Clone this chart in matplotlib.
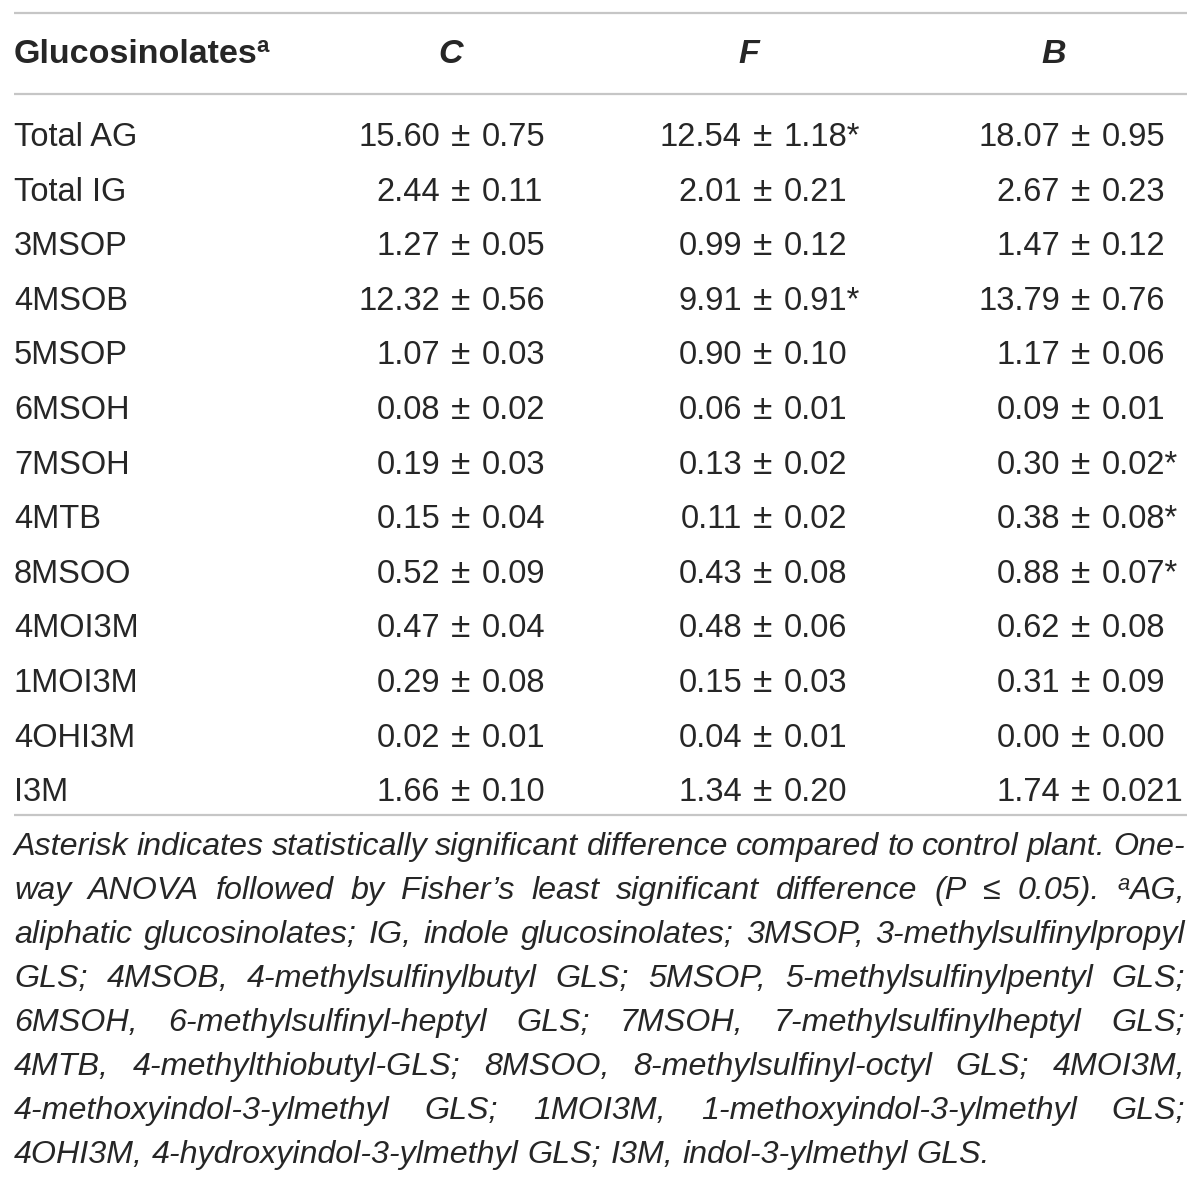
import matplotlib
matplotlib.use('Agg')
import matplotlib.pyplot as plt

# table content
compounds = ["Total AG", "Total IG", "3MSOP", "4MSOB", "5MSOP", "6MSOH", "7MSOH",
             "4MTB", "8MSOO", "4MOI3M", "1MOI3M", "4OHI3M", "I3M"]
col_heads = ["C", "F", "B"]
c_vals = ["15.60 ± 0.75", "2.44 ± 0.11", "1.27 ± 0.05", "12.32 ± 0.56", "1.07 ± 0.03",
          "0.08 ± 0.02", "0.19 ± 0.03", "0.15 ± 0.04", "0.52 ± 0.09", "0.47 ± 0.04",
          "0.29 ± 0.08", "0.02 ± 0.01", "1.66 ± 0.10"]
f_vals = ["12.54 ± 1.18*", "2.01 ± 0.21", "0.99 ± 0.12", "9.91 ± 0.91*", "0.90 ± 0.10",
          "0.06 ± 0.01", "0.13 ± 0.02", "0.11 ± 0.02", "0.43 ± 0.08", "0.48 ± 0.06",
          "0.15 ± 0.03", "0.04 ± 0.01", "1.34 ± 0.20"]
b_vals = ["18.07 ± 0.95", "2.67 ± 0.23", "1.47 ± 0.12", "13.79 ± 0.76", "1.17 ± 0.06",
          "0.09 ± 0.01", "0.30 ± 0.02*", "0.38 ± 0.08*", "0.88 ± 0.07*", "0.62 ± 0.08",
          "0.31 ± 0.09", "0.00 ± 0.00", "1.74 ± 0.021"]

caption_lines = [
    "Asterisk indicates statistically significant difference compared to control plant. One-",
    "way ANOVA followed by Fisher’s least significant difference (P ≤ 0.05). ^aAG,",
    "aliphatic glucosinolates; IG, indole glucosinolates; 3MSOP, 3-methylsulfinylpropyl",
    "GLS; 4MSOB, 4-methylsulfinylbutyl GLS; 5MSOP, 5-methylsulfinylpentyl GLS;",
    "6MSOH, 6-methylsulfinyl-heptyl GLS; 7MSOH, 7-methylsulfinylheptyl GLS;",
    "4MTB, 4-methylthiobutyl-GLS; 8MSOO, 8-methylsulfinyl-octyl GLS; 4MOI3M,",
    "4-methoxyindol-3-ylmethyl GLS; 1MOI3M, 1-methoxyindol-3-ylmethyl GLS;",
    "4OHI3M, 4-hydroxyindol-3-ylmethyl GLS; I3M, indol-3-ylmethyl GLS.",
]

c_text = '#262626'
c_rule = '#c6c6c6'
fam = ['Liberation Sans', 'DejaVu Sans']

fig = plt.figure(figsize=(12, 11.83), dpi=100)
ax = fig.add_axes([0, 0, 1, 1])
ax.set_xlim(0, 1200)
ax.set_ylim(1183, 0)
ax.axis('off')
renderer = fig.canvas.get_renderer()


def width(t):
    return t.get_window_extent(renderer).width


# rules
x_left, x_right = 14, 1187
for y in (12.5, 93.5, 815):
    ax.plot([x_left, x_right], [y, y], color=c_rule, lw=1.6, solid_capstyle='butt')

# header
fs_head = 24.5
fs = 23.5
head_base = 63
t = ax.text(x_left, head_base, "Glucosinolates", fontsize=fs_head, fontweight='bold',
            family=fam, color=c_text, va='baseline', ha='left')
ax.text(x_left + width(t) - 1, head_base - 11, "a", fontsize=16, fontweight='bold',
        family=fam, color=c_text, va='baseline', ha='left')
head_x = [451, 749, 1054]
for hx, h in zip(head_x, col_heads):
    ax.text(hx, head_base, h, fontsize=fs_head, fontweight='bold', style='italic',
            family=fam, color=c_text, va='baseline', ha='center')

# body, values aligned on the ± sign
pm_x = [461, 763, 1081]
row0, step = 146, 54.6
for i, name in enumerate(compounds):
    yb = row0 + i * step
    ax.text(x_left, yb, name, fontsize=fs, family=fam, color=c_text,
            va='baseline', ha='left')
    for px, vals in zip(pm_x, (c_vals, f_vals, b_vals)):
        mean, sd = vals[i].split(" ± ")
        ax.text(px - 21, yb, mean, fontsize=fs, family=fam, color=c_text,
                va='baseline', ha='right')
        ax.text(px, yb, "±", fontsize=fs + 2, family=fam, color=c_text,
                va='baseline', ha='center')
        ax.text(px + 21, yb, sd, fontsize=fs, family=fam, color=c_text,
                va='baseline', ha='left')

# caption: size chosen so the last (unjustified) line ends near x=990
probe = ax.text(0, 0, caption_lines[-1], fontsize=20, style='italic', family=fam)
cap_fs = 20 * (990 - x_left) / width(probe)
probe.remove()

cap_base, cap_step = 855, 44
for i, line in enumerate(caption_lines):
    yb = cap_base + i * cap_step
    pieces = []
    for word in line.split(' '):
        parts = []
        if word.startswith('^a'):
            parts.append(ax.text(0, yb - 9, 'a', fontsize=cap_fs * 0.68, style='italic',
                                 family=fam, color=c_text, va='baseline', ha='left'))
            word = word[2:]
        parts.append(ax.text(0, yb, word, fontsize=cap_fs, style='italic',
                             family=fam, color=c_text, va='baseline', ha='left'))
        pieces.append(parts)
    widths = [sum(width(p) for p in parts) for parts in pieces]
    if i < len(caption_lines) - 1:
        gap = (x_right - 2 - x_left - sum(widths)) / (len(pieces) - 1)
    else:
        sp = ax.text(0, 0, 'a a', fontsize=cap_fs, style='italic', family=fam)
        sp2 = ax.text(0, 0, 'aa', fontsize=cap_fs, style='italic', family=fam)
        gap = width(sp) - width(sp2)
        sp.remove()
        sp2.remove()
    x = x_left
    for parts, w in zip(pieces, widths):
        xx = x
        for p in parts:
            p.set_x(xx)
            xx += width(p)
        x += w + gap

fig.savefig('out.png', dpi=100, facecolor='white')
plt.close(fig)
